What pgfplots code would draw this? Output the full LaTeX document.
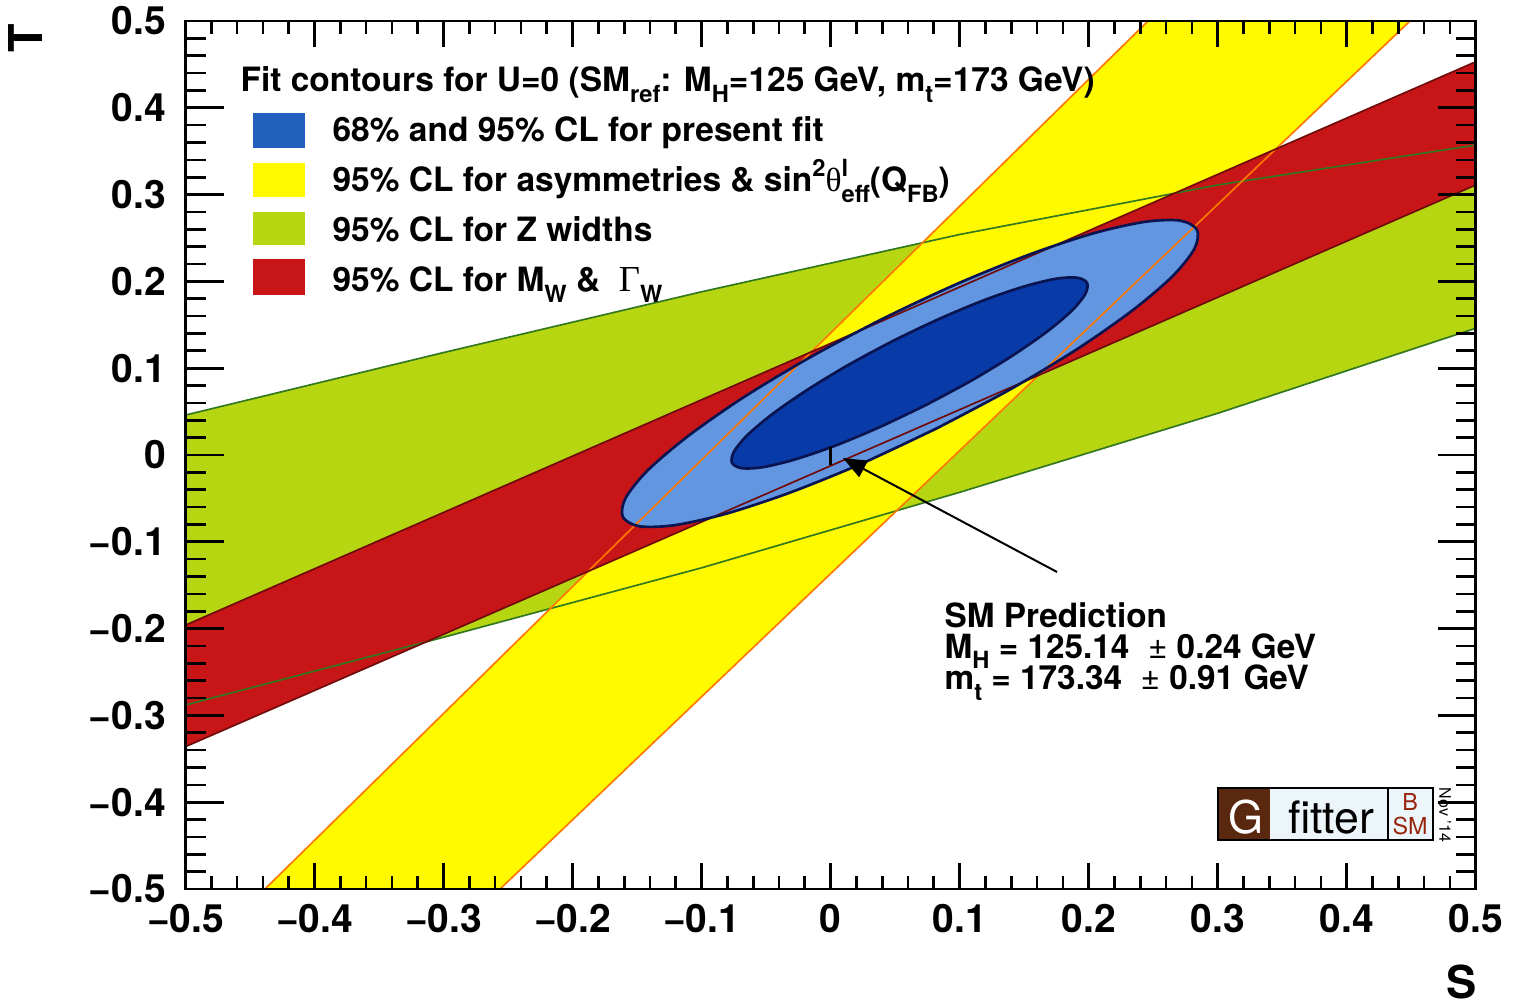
\documentclass[border=0pt]{standalone}
\usepackage{fontspec}
\setmainfont{TeX Gyre Heros}
\newfontfamily\serifgreek{Liberation Serif}
\usepackage{pgfplots}
\pgfplotsset{compat=1.18}
\usetikzlibrary{arrows.meta}

\definecolor{lblue}{RGB}{98,150,224}
\definecolor{dblue}{RGB}{8,58,168}
\definecolor{legblue}{RGB}{34,96,190}
\definecolor{bandyellow}{RGB}{255,250,0}
\definecolor{bandgreen}{RGB}{182,214,18}
\definecolor{bandred}{RGB}{200,22,24}
\definecolor{edgeorange}{RGB}{255,120,0}
\definecolor{edgegreen}{RGB}{50,120,30}
\definecolor{edgered}{RGB}{110,10,10}
\definecolor{navy}{RGB}{10,20,80}
\definecolor{logobrown}{RGB}{90,40,15}
\definecolor{logolight}{RGB}{236,245,250}
\definecolor{logored}{RGB}{150,35,10}

\newcommand{\lfont}{\fontsize{10.05}{12}\selectfont\bfseries}
\newcommand{\sfnt}{\fontsize{7.1}{8}\selectfont}
\newcommand{\dn}[1]{\raisebox{-0.32em}{\sfnt #1}}
\newcommand{\up}[1]{\raisebox{0.45em}{\sfnt #1}}

\begin{document}
\begin{tikzpicture}
\useasboundingbox (-55.65pt,-35.1pt) rectangle (400.95pt,266.7pt);
\begin{axis}[
  at={(0pt,0pt)}, anchor=south west,
  scale only axis, width=387.06pt, height=260.4pt,
  xmin=-0.5, xmax=0.5, ymin=-0.5, ymax=0.5,
  axis on top, clip mode=individual,
  tick align=inside,
  xtick=\empty,
  ytick={-0.5,-0.4,-0.3,-0.2,-0.1,0,0.1,0.2,0.3,0.4,0.5},
  yticklabels={−0.5,−0.4,−0.3,−0.2,−0.1,0,0.1,0.2,0.3,0.4,0.5},
  minor y tick num=4,
  major tick length=11.4pt, minor tick length=6pt,
  ticklabel style={font=\fontsize{11.7}{13}\selectfont\bfseries},
  yticklabel style={xshift=-2.4pt},
  axis line style={line width=0.8pt},
  every tick/.style={black, line width=0.8pt},
]
% Z widths band
\addplot[fill=bandgreen, draw=none] coordinates {(-0.5,0.046) (-0.3,0.118) (-0.1,0.188) (0.1,0.254) (0.3,0.311) (0.5,0.357) (0.5,0.146) (0.3,0.048) (0.1,-0.043) (-0.1,-0.130) (-0.3,-0.210) (-0.5,-0.288)};
% asymmetries band
\addplot[fill=bandyellow, draw=none] coordinates {(-0.4384,-0.5) (0.2461,0.5) (0.4491,0.5) (-0.2562,-0.5)};
% MW band
\addplot[fill=bandred, draw=none] coordinates {(-0.5,-0.196) (0.5,0.453) (0.5,0.311) (-0.5,-0.336)};
% 95% fit ellipse
\addplot[fill=lblue, draw=none, smooth] coordinates {(0.0827,0.0310) (0.0244,-0.0097) (-0.0314,-0.0433) (-0.0808,-0.0676) (-0.1206,-0.0808) (-0.1479,-0.0822) (-0.1610,-0.0715) (-0.1589,-0.0496) (-0.1418,-0.0178) (-0.1108,0.0214) (-0.0682,0.0657) (-0.0166,0.1119) (0.0403,0.1568) (0.0986,0.1975) (0.1544,0.2311) (0.2038,0.2554) (0.2436,0.2686) (0.2709,0.2700) (0.2840,0.2593) (0.2819,0.2374) (0.2648,0.2056) (0.2338,0.1664) (0.1912,0.1221) (0.1396,0.0759) (0.0827,0.0310)};
% band edges
\addplot[edgegreen, line width=0.5pt] coordinates {(-0.5,0.046) (-0.3,0.118) (-0.1,0.188) (0.1,0.254) (0.3,0.311) (0.5,0.357)};
\addplot[edgegreen, line width=0.5pt] coordinates {(-0.5,-0.288) (-0.3,-0.210) (-0.1,-0.130) (0.1,-0.043) (0.3,0.048) (0.5,0.146)};
\addplot[edgeorange, line width=0.5pt] coordinates {(-0.4384,-0.5) (0.2461,0.5)};
\addplot[edgeorange, line width=0.5pt] coordinates {(-0.2562,-0.5) (0.4491,0.5)};
\addplot[edgered, line width=0.5pt] coordinates {(-0.5,-0.196) (0.5,0.453)};
\addplot[edgered, line width=0.5pt] coordinates {(-0.5,-0.336) (0.5,0.311)};
% outline of 95% ellipse
\addplot[navy, line width=0.8pt, smooth] coordinates {(0.0827,0.0310) (0.0244,-0.0097) (-0.0314,-0.0433) (-0.0808,-0.0676) (-0.1206,-0.0808) (-0.1479,-0.0822) (-0.1610,-0.0715) (-0.1589,-0.0496) (-0.1418,-0.0178) (-0.1108,0.0214) (-0.0682,0.0657) (-0.0166,0.1119) (0.0403,0.1568) (0.0986,0.1975) (0.1544,0.2311) (0.2038,0.2554) (0.2436,0.2686) (0.2709,0.2700) (0.2840,0.2593) (0.2819,0.2374) (0.2648,0.2056) (0.2338,0.1664) (0.1912,0.1221) (0.1396,0.0759) (0.0827,0.0310)};
% 68% ellipse
\addplot[fill=dblue, draw=navy, line width=0.8pt, smooth] coordinates {(0.0737,0.0574) (0.0377,0.0319) (0.0032,0.0105) (-0.0273,-0.0050) (-0.0518,-0.0139) (-0.0685,-0.0153) (-0.0764,-0.0092) (-0.0749,0.0039) (-0.0642,0.0233) (-0.0449,0.0474) (-0.0184,0.0747) (0.0135,0.1035) (0.0487,0.1316) (0.0847,0.1571) (0.1192,0.1785) (0.1497,0.1940) (0.1742,0.2029) (0.1909,0.2043) (0.1988,0.1982) (0.1973,0.1851) (0.1866,0.1657) (0.1673,0.1416) (0.1408,0.1143) (0.1089,0.0855) (0.0737,0.0574)};
% SM prediction
\addplot[black, line width=0.9pt] coordinates {(0,-0.0115) (0,0.009)};
\draw[black, line width=0.6pt, -{Triangle[length=7pt,width=5.5pt]}] (axis cs:0.1755,-0.1348) -- (axis cs:0.0096,-0.0035);
\node[anchor=base west, inner sep=0pt, font=\fontsize{10}{12}\selectfont\bfseries] at (axis cs:0.0879,-0.1982) {SM Prediction};
\node[anchor=base west, inner sep=0pt, font=\fontsize{10}{12}\selectfont\bfseries] at (axis cs:0.0879,-0.2339) {M\dn{H} = 125.14 \ {\mdseries ±} 0.24 GeV};
\node[anchor=base west, inner sep=0pt, font=\fontsize{10}{12}\selectfont\bfseries] at (axis cs:0.0879,-0.2707) {m\dn{t} = 173.34 \ {\mdseries ±} 0.91 GeV};
% legend
\node[anchor=base west, inner sep=0pt, font=\lfont] at (axis cs:-0.4578,0.4182) {Fit contours for U=0 (SM\dn{ref}: M\dn{H}=125 GeV, m\dn{t}=173 GeV)};
\fill[legblue] (axis cs:-0.4477,0.3537) rectangle (axis cs:-0.4074,0.3940);
\fill[bandyellow] (axis cs:-0.4477,0.2972) rectangle (axis cs:-0.4074,0.3364);
\fill[bandgreen] (axis cs:-0.4477,0.2419) rectangle (axis cs:-0.4074,0.2800);
\fill[bandred] (axis cs:-0.4477,0.1843) rectangle (axis cs:-0.4074,0.2258);
\node[anchor=base west, inner sep=0pt, font=\lfont] at (axis cs:-0.3865,0.3606) {68\% and 95\% CL for present fit};
\node[anchor=base west, inner sep=0pt, font=\lfont] at (axis cs:-0.3865,0.3030) {95\% CL for asymmetries \& sin\up{2}{\serifgreek\mdseries θ}\rlap{\up{l}}\dn{eff}(Q\dn{FB})};
\node[anchor=base west, inner sep=0pt, font=\lfont] at (axis cs:-0.3865,0.2454) {95\% CL for Z widths};
\node[anchor=base west, inner sep=0pt, font=\lfont] at (axis cs:-0.3865,0.1878) {95\% CL for M\dn{W} \& \ {\serifgreek\mdseries\fontsize{11}{12}\selectfont Γ}\dn{W}};
% logo
\fill[logolight] (axis cs:0.3004,-0.4435) rectangle (axis cs:0.4671,-0.3836);
\fill[logobrown] (axis cs:0.3004,-0.4435) rectangle (axis cs:0.3407,-0.3836);
\draw[black, line width=0.5pt] (axis cs:0.4320,-0.4435) -- (axis cs:0.4320,-0.3836);
\draw[black, line width=0.7pt] (axis cs:0.3004,-0.4435) rectangle (axis cs:0.4671,-0.3836);
\node[anchor=base, inner sep=0pt, text=white, font=\fontsize{13.5}{14}\selectfont] at (axis cs:0.3220,-0.4355) {G};
\node[anchor=base, inner sep=0pt, font=\fontsize{13.4}{14}\selectfont] at (axis cs:0.3881,-0.4355) {fitter};
\node[inner sep=0pt, text=logored, font=\fontsize{7}{8}\selectfont] at (axis cs:0.4492,-0.3998) {B};
\node[inner sep=0pt, text=logored, font=\fontsize{7}{8}\selectfont] at (axis cs:0.4492,-0.4274) {SM};
\node[rotate=-90, inner sep=0pt, font=\fontsize{4.8}{5}\selectfont] at (axis cs:0.4762,-0.4147) {Nov '14};
% axis titles
\node[rotate=90, inner sep=0pt, font=\fontsize{14}{16}\selectfont\bfseries] at (axis cs:-0.6244,0.4800) {T};
\node[inner sep=0pt, font=\fontsize{13.6}{16}\selectfont\bfseries] at (axis cs:0.4894,-0.6070) {S};
\end{axis}
\begin{axis}[
  at={(0pt,0pt)}, anchor=south west,
  scale only axis, width=387.06pt, height=260.4pt,
  xmin=-0.5, xmax=0.5, ymin=-0.5, ymax=0.5,
  tick align=inside,
  ytick=\empty,
  xtick={-0.5,-0.4,-0.3,-0.2,-0.1,0,0.1,0.2,0.3,0.4,0.5},
  xticklabels={−0.5,−0.4,−0.3,−0.2,−0.1,0,0.1,0.2,0.3,0.4,0.5},
  minor x tick num=4,
  major tick length=7.8pt, minor tick length=3.9pt,
  ticklabel style={font=\fontsize{11.7}{13}\selectfont\bfseries},
  xticklabel style={yshift=-1pt},
  axis line style={line width=0.8pt},
  every tick/.style={black, line width=0.8pt},
]
\addplot[draw=none] coordinates {(0,0)};
\end{axis}
\end{tikzpicture}
\end{document}
